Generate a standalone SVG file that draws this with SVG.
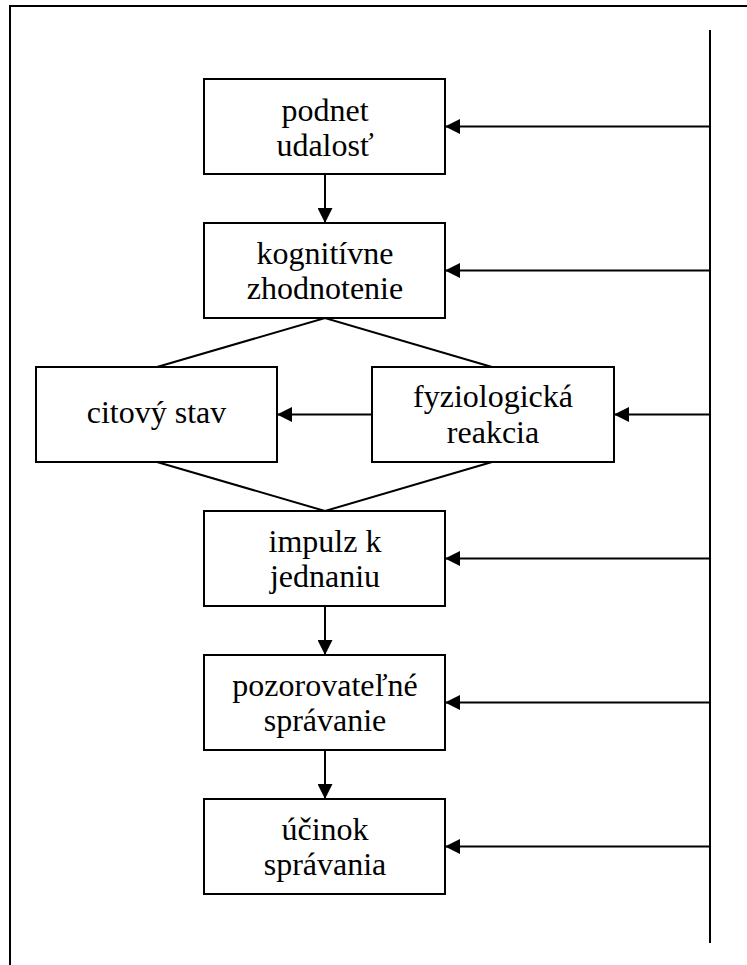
<svg xmlns="http://www.w3.org/2000/svg" width="747" height="965" viewBox="0 0 747 965">
<style>
.box{fill:#fff;stroke:#000;stroke-width:2}
.ln{fill:none;stroke:#000;stroke-width:2}
.t{font-family:"Liberation Serif","Times New Roman",serif;font-size:32px;fill:#000;text-anchor:middle}
</style>
<defs>
<marker id="ah" viewBox="0 0 15 15" refX="15" refY="7.5" markerWidth="15" markerHeight="15" markerUnits="userSpaceOnUse" orient="auto">
<path d="M0,0 L15,7.5 L0,15 z" fill="#000"/>
</marker>
</defs>
<rect width="747" height="965" fill="#fff"/>
<rect x="10" y="6" width="800" height="1000" fill="none" stroke="#000" stroke-width="2"/>
<g id="connectors">
<line class="ln" x1="710" y1="30" x2="710" y2="943"/>
<line class="ln" x1="710" y1="126.5" x2="445" y2="126.5" marker-end="url(#ah)"/>
<line class="ln" x1="710" y1="270.5" x2="445" y2="270.5" marker-end="url(#ah)"/>
<line class="ln" x1="710" y1="414.5" x2="614" y2="414.5" marker-end="url(#ah)"/>
<line class="ln" x1="710" y1="558.5" x2="445" y2="558.5" marker-end="url(#ah)"/>
<line class="ln" x1="710" y1="702.5" x2="445" y2="702.5" marker-end="url(#ah)"/>
<line class="ln" x1="710" y1="846.5" x2="445" y2="846.5" marker-end="url(#ah)"/>
<line class="ln" x1="372" y1="414.5" x2="277" y2="414.5" marker-end="url(#ah)"/>
<line class="ln" x1="325" y1="174" x2="325" y2="223" marker-end="url(#ah)"/>
<line class="ln" x1="325" y1="606" x2="325" y2="655" marker-end="url(#ah)"/>
<line class="ln" x1="325" y1="750" x2="325" y2="799" marker-end="url(#ah)"/>
<polyline class="ln" points="157,367 325,318 492,367"/>
<polyline class="ln" points="157,462 325,511 492,462"/>
</g>
<g id="n1"><rect class="box" x="204" y="79" width="241" height="95"/>
<text class="t" x="325" y="121">podnet</text><text class="t" x="325" y="156">udalosť</text></g>
<g id="n2"><rect class="box" x="204" y="223" width="241" height="95"/>
<text class="t" x="325" y="264">kognitívne</text><text class="t" x="325" y="299">zhodnotenie</text></g>
<g id="n3"><rect class="box" x="36" y="367" width="241" height="95"/>
<text class="t" x="156.5" y="423">citový stav</text></g>
<g id="n4"><rect class="box" x="372" y="367" width="242" height="95"/>
<text class="t" x="493" y="407">fyziologická</text><text class="t" x="493" y="443">reakcia</text></g>
<g id="n5"><rect class="box" x="204" y="511" width="241" height="95"/>
<text class="t" x="325" y="552">impulz k</text><text class="t" x="325" y="587">jednaniu</text></g>
<g id="n6"><rect class="box" x="204" y="655" width="241" height="95"/>
<text class="t" x="325" y="696">pozorovateľné</text><text class="t" x="325" y="731">správanie</text></g>
<g id="n7"><rect class="box" x="204" y="799" width="241" height="95"/>
<text class="t" x="325" y="840">účinok</text><text class="t" x="325" y="875">správania</text></g>
</svg>
